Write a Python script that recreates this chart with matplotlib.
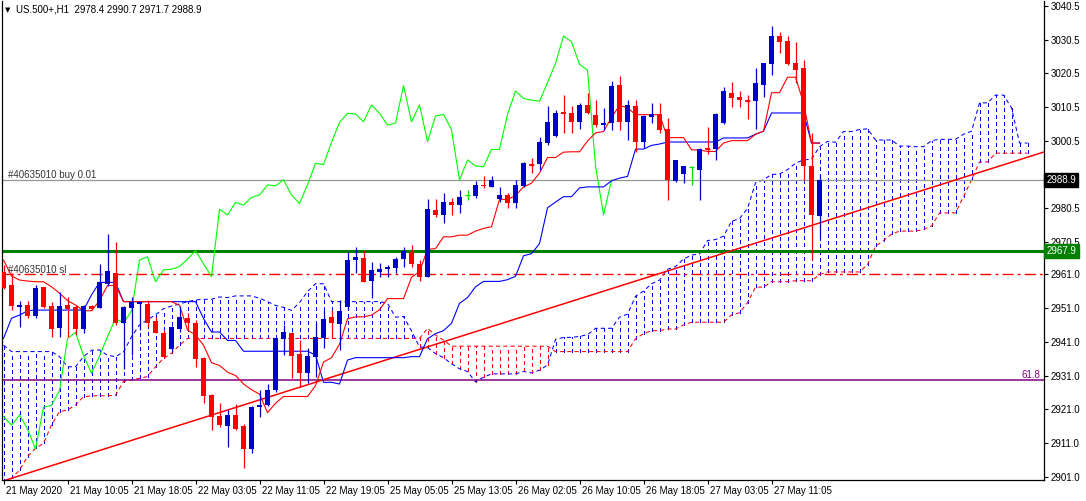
import matplotlib
matplotlib.use("Agg")
import matplotlib.pyplot as plt
from matplotlib.transforms import blended_transform_factory, ScaledTranslation

plt.rcParams['font.family'] = ['Liberation Sans', 'DejaVu Sans']

# ---------------- data (H1 bars, US.500+) ----------------
opens = [2961.8, 2957.8, 2951.4, 2951.9, 2948.6, 2957.1, 2951.6, 2945.2, 2951.9, 2951.2,
         2944.8, 2951.6, 2951.1, 2958.1, 2961.5, 2946.5, 2951.0, 2952.2, 2952.2, 2947.3,
         2943.7, 2938.8, 2944.8, 2948.0, 2946.7, 2936.3, 2925.2, 2919.1, 2916.1, 2919.3,
         2916.0, 2909.2, 2921.6, 2922.3, 2926.6, 2941.7, 2943.5, 2937.4, 2931.7, 2936.6,
         2942.0, 2948.4, 2946.2, 2951.4, 2965.2, 2965.9, 2959.0, 2961.8, 2962.5, 2962.8,
         2965.4, 2967.7, 2964.1, 2960.1, 2980.1, 2978.6, 2982.5, 2981.5, 2984.5, 2984.2,
         2987.6, 2987.0, 2983.2, 2984.5, 2982.0, 2987.3, 2993.8, 2993.7, 2999.8, 3002.0,
         3009.1, 3008.7, 3006.2, 3011.2, 3008.2, 3005.2, 3005.7, 3017.1, 3006.2, 3010.9,
         3000.3, 3007.7, 3008.4, 3004.0, 2988.7, 2990.6, 2992.9, 2991.9, 2998.3, 2998.1,
         3005.7, 3014.6, 3013.6, 3012.5, 3012.3, 3017.1, 3023.2, 3031.6, 3030.1, 3023.5,
         3022.0, 2993.1, 2978.4]
highs = [2963.8, 2961.3, 2953.2, 2953.2, 2957.8, 2957.3, 2952.9, 2955.9, 2954.4, 2951.9,
         2952.0, 2952.0, 2964.0, 2972.9, 2970.7, 2951.6, 2954.4, 2953.0, 2953.4, 2948.2,
         2944.5, 2945.8, 2951.6, 2949.4, 2947.5, 2936.6, 2925.5, 2922.8, 2920.8, 2922.5,
         2916.5, 2922.0, 2926.7, 2928.5, 2942.0, 2946.0, 2943.8, 2941.5, 2939.1, 2946.5,
         2950.4, 2950.4, 2953.4, 2967.7, 2969.0, 2968.2, 2964.7, 2964.3, 2963.8, 2966.2,
         2969.0, 2969.7, 2965.3, 2983.3, 2983.2, 2985.0, 2983.5, 2986.0, 2986.0, 2988.5,
         2990.0, 2990.0, 2987.0, 2985.0, 2988.9, 2994.4, 2995.6, 3001.6, 3010.9, 3009.7,
         3014.1, 3010.9, 3011.7, 3014.6, 3012.6, 3010.2, 3018.3, 3019.8, 3012.6, 3012.6,
         3008.2, 3011.7, 3011.7, 3007.2, 2994.9, 2993.1, 2993.2, 2998.3, 3004.7, 3008.7,
         3016.6, 3018.1, 3015.4, 3014.1, 3022.0, 3023.7, 3034.6, 3032.9, 3031.6, 3029.9,
         3024.5, 3002.8, 2990.7]
lows = [2956.5, 2950.4, 2945.5, 2948.0, 2948.0, 2950.9, 2942.5, 2942.5, 2942.5, 2943.0,
        2943.5, 2950.4, 2950.9, 2957.5, 2946.0, 2932.9, 2937.0, 2944.5, 2945.5, 2943.5,
        2936.1, 2938.5, 2944.0, 2944.5, 2933.6, 2922.8, 2914.9, 2915.9, 2909.9, 2914.9,
        2903.5, 2908.0, 2918.8, 2922.0, 2926.2, 2937.1, 2930.2, 2927.7, 2928.7, 2930.7,
        2939.1, 2942.0, 2938.6, 2950.4, 2961.3, 2958.8, 2953.9, 2960.3, 2960.3, 2961.3,
        2963.3, 2963.1, 2959.1, 2960.1, 2978.1, 2976.3, 2978.6, 2979.3, 2983.0, 2983.5,
        2986.5, 2986.8, 2982.5, 2980.5, 2980.5, 2987.0, 2991.1, 2991.9, 2999.3, 3001.8,
        3002.8, 3003.0, 3004.2, 3008.4, 3004.7, 3003.8, 3003.8, 3003.8, 3000.8, 2997.3,
        2998.3, 3005.7, 3002.8, 2983.0, 2988.4, 2988.0, 2987.5, 2983.0, 2996.6, 2994.9,
        3005.5, 3010.7, 3010.7, 3007.0, 3004.1, 3013.6, 3020.0, 3026.5, 3023.0, 3017.6,
        2989.0, 2965.2, 2971.7]
closes = [2956.9, 2951.6, 2951.8, 2948.6, 2957.0, 2951.4, 2944.8, 2951.6, 2950.6, 2944.8,
          2951.6, 2950.7, 2958.6, 2962.0, 2946.5, 2951.4, 2952.9, 2952.9, 2946.7, 2943.7,
          2936.6, 2945.4, 2948.2, 2946.7, 2935.8, 2925.0, 2918.8, 2916.3, 2919.3, 2915.2,
          2909.2, 2921.6, 2922.2, 2926.6, 2942.0, 2943.8, 2936.9, 2931.7, 2936.8, 2942.5,
          2947.9, 2946.5, 2950.2, 2965.2, 2966.2, 2958.8, 2962.3, 2962.5, 2963.3, 2965.5,
          2968.0, 2964.1, 2960.3, 2980.3, 2978.6, 2982.3, 2981.5, 2983.8, 2984.5, 2987.5,
          2987.2, 2989.0, 2984.5, 2982.0, 2987.5, 2993.9, 2993.5, 3000.1, 3006.0, 3008.7,
          3008.5, 3006.2, 3011.2, 3008.7, 3005.2, 3005.8, 3016.9, 3006.2, 3011.2, 3000.3,
          3007.9, 3008.4, 3003.8, 2988.9, 2994.9, 2993.1, 2992.9, 2998.0, 2998.0, 3008.4,
          3015.3, 3013.1, 3012.6, 3012.3, 3017.8, 3023.5, 3031.6, 3029.9, 3023.2, 3021.5,
          2993.1, 2978.6, 2988.9]

# Ichimoku lines
tenkan = [2965.2, 2960.5, 2959.3, 2959.0, 2958.8, 2958.8, 2957.3, 2955.4, 2953.2, 2951.9,
          2950.2, 2950.2, 2953.2, 2957.7, 2957.7, 2952.9, 2952.9, 2952.9, 2952.9, 2952.9,
          2952.9, 2952.9, 2951.8, 2944.5, 2943.0, 2940.0, 2934.8, 2934.0, 2932.0, 2931.0,
          2928.5, 2926.8, 2925.5, 2920.0, 2922.8, 2924.8, 2924.8, 2924.8, 2924.8, 2928.0,
          2935.0, 2936.3, 2940.3, 2947.8, 2948.4, 2948.4, 2948.9, 2950.5, 2953.8, 2953.8,
          2953.8, 2960.1, 2961.8, 2968.4, 2968.6, 2972.1, 2972.1, 2972.6, 2972.6, 2973.8,
          2974.6, 2975.1, 2983.2, 2983.2, 2984.3, 2986.9, 2988.0, 2991.0, 2995.6, 2995.6,
          2997.2, 2997.3, 2997.3, 3000.5, 3002.9, 3003.3, 3007.5, 3011.0, 3010.4, 3008.3,
          3008.3, 3008.3, 3008.3, 3001.5, 3001.5, 3001.5, 2997.9, 2997.8, 2997.4, 2997.4,
          2999.9, 3000.6, 3000.6, 3000.6, 3002.5, 3003.4, 3014.8, 3014.8, 3019.4, 3019.4,
          3011.8, 2999.9, 2999.9]
kijun = [2942.0, 2948.0, 2948.9, 2950.2, 2950.4, 2950.4, 2950.4, 2950.4, 2950.4, 2950.4,
         2950.4, 2954.9, 2958.6, 2958.6, 2958.6, 2952.9, 2952.9, 2952.9, 2952.9, 2952.9,
         2952.9, 2952.9, 2952.9, 2952.9, 2952.9, 2947.9, 2943.9, 2943.9, 2941.4, 2941.4,
         2938.2, 2938.2, 2938.2, 2938.2, 2938.2, 2938.2, 2938.2, 2938.2, 2938.2, 2937.1,
         2929.0, 2929.0, 2928.5, 2935.6, 2936.3, 2936.3, 2936.3, 2936.3, 2936.3, 2936.3,
         2936.3, 2936.6, 2936.6, 2941.9, 2943.4, 2944.3, 2946.5, 2952.4, 2954.1, 2957.3,
         2958.9, 2958.9, 2958.9, 2959.4, 2960.4, 2966.5, 2967.1, 2970.1, 2980.7, 2982.4,
         2984.0, 2984.0, 2986.6, 2986.9, 2986.9, 2986.9, 2988.7, 2989.5, 2990.0, 2998.1,
         2998.1, 2999.2, 2999.6, 3000.2, 3000.2, 3000.2, 3000.2, 3000.2, 3000.2, 3000.2,
         3001.4, 3001.4, 3001.4, 3001.4, 3002.5, 3003.4, 3008.8, 3008.8, 3008.8, 3008.8,
         3008.8, 2999.9, 2999.9]
span_a = [2940.0, 2938.1, 2938.1, 2938.1, 2938.1, 2938.1, 2938.1, 2936.6, 2933.6, 2933.6,
          2936.6, 2938.5, 2938.6, 2937.0, 2936.6, 2938.0, 2942.5, 2946.0, 2947.5, 2949.0,
          2950.8, 2951.6, 2952.2, 2952.9, 2953.4, 2953.6, 2953.6, 2954.3, 2954.1, 2954.6,
          2954.6, 2954.6, 2953.9, 2952.9, 2951.8, 2951.2, 2950.3, 2952.6, 2955.9, 2958.2,
          2958.2, 2952.9, 2952.9, 2952.9, 2952.9, 2952.9, 2952.9, 2952.9, 2952.4, 2948.3,
          2948.5, 2944.2, 2939.5, 2939.3, 2937.5, 2936.3, 2934.5, 2933.0, 2932.2, 2929.1,
          2930.5, 2931.5, 2931.5, 2931.5, 2931.5, 2932.2, 2931.8, 2932.6, 2934.1, 2941.7,
          2942.3, 2942.3, 2942.6, 2943.1, 2945.0, 2945.0, 2945.0, 2948.3, 2949.2, 2954.5,
          2956.0, 2958.2, 2959.3, 2962.5, 2963.3, 2965.5, 2966.7, 2967.0, 2971.0, 2971.3,
          2972.3, 2976.7, 2977.5, 2980.5, 2988.1, 2989.0, 2990.6, 2990.7, 2992.0, 2993.9,
          2994.9, 2995.1, 2998.8, 3000.4, 3000.1, 3003.3, 3003.3, 3003.9, 3004.1, 3000.8,
          3000.8, 3000.8, 2999.0, 2999.0, 2998.8, 2998.8, 3000.6, 3001.0, 3001.0, 3001.0,
          3002.5, 3003.4, 3011.8, 3011.8, 3014.1, 3014.1, 3010.3, 2999.9, 2999.9]
span_b = [2899.5, 2900.5, 2903.0, 2907.0, 2909.4, 2910.9, 2916.4, 2920.3, 2920.8, 2922.3,
          2924.7, 2925.0, 2925.0, 2925.0, 2925.2, 2929.2, 2929.7, 2930.2, 2930.7, 2933.6,
          2936.1, 2937.6, 2940.0, 2942.0, 2942.0, 2942.0, 2942.0, 2942.0, 2942.0, 2942.0,
          2942.0, 2942.0, 2942.0, 2942.0, 2942.0, 2942.0, 2942.0, 2942.0, 2942.0, 2942.0,
          2942.0, 2942.0, 2942.0, 2942.0, 2942.0, 2942.0, 2942.0, 2942.0, 2942.0, 2942.0,
          2942.0, 2942.0, 2942.0, 2945.0, 2943.0, 2941.5, 2939.7, 2939.7, 2939.7, 2939.7,
          2939.7, 2939.7, 2939.7, 2939.7, 2939.7, 2939.7, 2939.7, 2939.7, 2939.7, 2938.1,
          2938.1, 2938.1, 2938.1, 2938.1, 2938.1, 2938.1, 2938.1, 2938.1, 2938.1, 2941.9,
          2943.4, 2944.3, 2944.3, 2944.8, 2944.8, 2946.0, 2946.8, 2946.8, 2946.8, 2946.8,
          2946.8, 2949.0, 2949.6, 2952.6, 2957.2, 2957.2, 2958.8, 2958.8, 2958.8, 2959.1,
          2959.1, 2959.1, 2960.9, 2961.7, 2961.7, 2961.7, 2961.7, 2961.7, 2963.9, 2969.3,
          2971.0, 2972.9, 2973.8, 2973.8, 2973.8, 2974.3, 2975.3, 2979.2, 2979.2, 2979.2,
          2984.0, 2989.0, 2994.3, 2994.3, 2996.9, 2996.9, 2996.9, 2996.9, 2996.9]
chikou_shift = 26

# levels / objects
bid_price = 2988.9
green_level = 2967.9
sl_price = 2961.0
fibo_618 = 2929.6
trend_bars = [0, 130]
trend_prices = [2899.8, 2997.2]

price_ticks = [3040.5, 3030.5, 3020.5, 3010.5, 3000.5, 2990.5, 2980.5, 2970.5,
               2961.0, 2951.0, 2941.0, 2931.0, 2921.0, 2911.0, 2901.0]
# the 2990.5 label sits fully under the current-price box in the reference
price_labels = ["3040.5", "3030.5", "3020.5", "3010.5", "3000.5", "", "2980.5", "2970.5",
                "2961.0", "2951.0", "2941.0", "2931.0", "2921.0", "2911.0", "2901.0"]
time_labels = ["21 May 2020", "21 May 10:05", "21 May 18:05", "22 May 03:05",
               "22 May 11:05", "22 May 19:05", "25 May 05:05", "25 May 13:05",
               "26 May 02:05", "26 May 10:05", "26 May 18:05", "27 May 03:05",
               "27 May 11:05"]
time_label_bars = [0, 8, 16, 24, 32, 40, 48, 56, 64, 72, 80, 88, 96]

# ---------------- drawing ----------------
RED = '#FF0000'
BLUE = '#0000FF'
CBLUE = '#0000CC'
LIME = '#00FF00'
DASH = (0, (4, 3))

fig = plt.figure(figsize=(10.86, 5.01), dpi=100)
ax = fig.add_axes([2 / 1086, 21 / 501, 1042 / 1086, 479 / 501])
ax.set_xlim(-0.19, 130.06)
ax.set_ylim(2900.05, 3041.98)

n = len(closes)
bars = list(range(n))
cloud_bars = list(range(len(span_a)))

# cloud hatching
for k in cloud_bars:
    a, b = span_a[k], span_b[k]
    col = BLUE if a >= b else RED
    ax.vlines(k, min(a, b), max(a, b), colors=col, linewidth=0.72,
              linestyles=[DASH], zorder=1, antialiased=False)
ax.plot(cloud_bars, span_b, color=RED, lw=0.75, ls=DASH, zorder=1.1)
ax.plot(cloud_bars, span_a, color=BLUE, lw=0.75, ls=DASH, zorder=1.2)

# horizontal objects
ax.axhline(fibo_618, color='#800080', lw=1.1, zorder=2)
ax.axhline(sl_price, color=RED, lw=1.0, ls=(0, (8, 3, 2, 3)), zorder=2)
ax.axhline(green_level, color='#008000', lw=2.2, zorder=2)
ax.axhline(bid_price, color='#909C90', lw=0.9, zorder=2)

# trend line
ax.plot(trend_bars, trend_prices, color=RED, lw=1.1, zorder=2.5)

# ichimoku lines
ax.plot(bars[:n - chikou_shift], closes[chikou_shift:], color=LIME, lw=0.8, zorder=3)
ax.plot(bars, kijun, color=BLUE, lw=0.8, zorder=3.1)
ax.plot(bars, tenkan, color=RED, lw=0.8, zorder=3.2)

# candles
cols = []
for o, c in zip(opens, closes):
    if c > o:
        cols.append(CBLUE)
    elif c < o:
        cols.append(RED)
    else:
        cols.append('#00E000')
ax.vlines(bars, lows, highs, colors=cols, lw=0.9, zorder=5)
bottoms = [min(o, c) for o, c in zip(opens, closes)]
heights = [abs(c - o) for o, c in zip(opens, closes)]
ax.bar(bars, heights, bottom=bottoms, width=0.625, color=cols, lw=0, zorder=6)
for i in bars:
    if heights[i] < 0.4:
        ax.hlines(closes[i], i - 0.3125, i + 0.3125, colors=cols[i], lw=0.9, zorder=6)

# axes styling
ax.spines['top'].set_visible(False)
for s in ['left', 'right', 'bottom']:
    ax.spines[s].set_color('black')
    ax.spines[s].set_linewidth(0.9)

ax.yaxis.tick_right()
ax.set_yticks(price_ticks)
ax.set_yticklabels(price_labels)
ax.tick_params(axis='y', direction='out', length=3, width=0.8, pad=1.5,
               labelsize=7, colors='black')
ax.set_xticks(time_label_bars)
ax.set_xticklabels(time_labels)
ax.tick_params(axis='x', direction='out', length=3, width=0.8, pad=1.5,
               labelsize=7, colors='black')
off = ScaledTranslation(2 / 100, 0, fig.dpi_scale_trans)
for lbl in ax.get_xticklabels():
    lbl.set_ha('left')
    lbl.set_transform(lbl.get_transform() + off)

# texts
tr = blended_transform_factory(ax.transAxes, ax.transData)
ax.text(1.0025, bid_price, "2988.9", transform=tr, ha='left', va='center',
        fontsize=7, color='white', zorder=20, clip_on=False,
        bbox=dict(boxstyle='square,pad=0.22', fc='black', ec='black'))
ax.text(1.0025, green_level, "2967.9", transform=tr, ha='left', va='center',
        fontsize=7, color='white', zorder=20, clip_on=False,
        bbox=dict(boxstyle='square,pad=0.22', fc='#008000', ec='#008000'))
ax.text(129.6, fibo_618 + 0.6, "61.8", ha='right', va='baseline', fontsize=7,
        color='#800080', zorder=8)
ax.text(0.6, bid_price + 0.7, "#40635010 buy 0.01", ha='left', va='baseline',
        fontsize=7, color='#333333', zorder=8)
ax.text(0.6, sl_price + 0.5, "#40635010 sl", ha='left', va='baseline',
        fontsize=7, color='#333333', zorder=8)

fig.text(5 / 1086, 1 - 10 / 501, "\u25BC", fontsize=5, va='center', ha='left',
         family='DejaVu Sans', color='black')
fig.text(16 / 1086, 1 - 10 / 501, "US.500+,H1  2978.4 2990.7 2971.7 2988.9",
         fontsize=7, va='center', ha='left', color='black')

fig.savefig("out.png", dpi=100, facecolor='white')
